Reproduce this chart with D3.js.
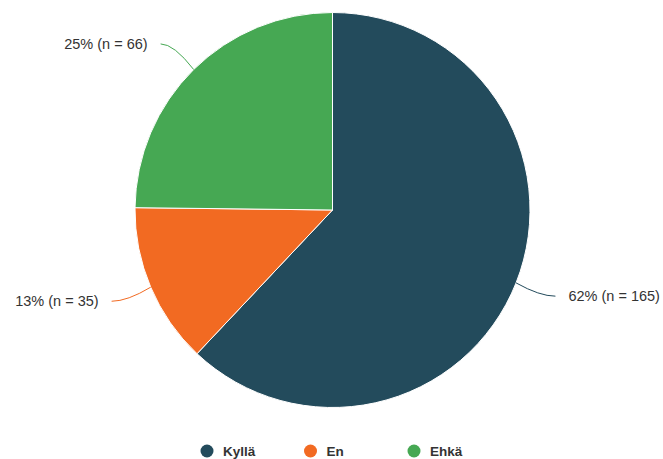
<!DOCTYPE html>
<html>
<head>
<meta charset="utf-8">
<script src="https://cdn.jsdelivr.net/npm/d3@7"></script>
<style>
  html, body { margin: 0; padding: 0; background: #fff; }
  svg { display: block; }
</style>
</head>
<body>
<svg id="chart" width="663" height="459"></svg>
<script>
// Survey answers
const categories = ["Kyllä", "En", "Ehkä"];
const counts = [165, 35, 66];
const percentLabels = ["62%", "13%", "25%"];
const colors = ["#234b5c", "#f26a22", "#46a853"];

const width = 663, height = 459;
const cx = 332.5, cy = 210, radius = 197.5;

const svg = d3.select("#chart");
const g = svg.append("g").attr("transform", `translate(${cx},${cy})`);

const data = categories.map((c, i) => ({ name: c, value: counts[i], pct: percentLabels[i], color: colors[i] }));

const pie = d3.pie().value(d => d.value).sort(null);
const arcs = pie(data);
const arc = d3.arc().innerRadius(0).outerRadius(radius);

g.selectAll("path.slice")
  .data(arcs)
  .join("path")
  .attr("class", "slice")
  .attr("d", arc)
  .attr("fill", d => d.data.color)
  .attr("stroke", "#ffffff")
  .attr("stroke-width", 1);

// Data labels with soft connectors
const polar = (a, r) => [Math.sin(a) * r, -Math.cos(a) * r];
const labelRadius = 239;
arcs.forEach(d => {
  const mid = (d.startAngle + d.endAngle) / 2;
  const right = Math.sin(mid) > 0;
  const edge = polar(mid, radius);
  const ly = polar(mid, radius + 36)[1];
  const lx = (right ? 1 : -1) * Math.sqrt(labelRadius * labelRadius - ly * ly);
  const anchor = [lx, ly];
  const ctrl = [anchor[0] + (edge[0] - anchor[0]) * 0.4, anchor[1]];
  g.append("path")
    .attr("d", `M${anchor[0]},${anchor[1]} Q${ctrl[0]},${ctrl[1]} ${edge[0]},${edge[1]}`)
    .attr("fill", "none")
    .attr("stroke", d.data.color)
    .attr("stroke-width", 1);
  g.append("text")
    .attr("x", anchor[0] + (right ? 13 : -13))
    .attr("y", anchor[1])
    .attr("dy", "0.35em")
    .attr("text-anchor", right ? "start" : "end")
    .attr("font-family", "Arial, 'Liberation Sans', sans-serif")
    .attr("font-size", 14.5)
    .attr("fill", "#333333")
    .text(`${d.data.pct} (n = ${d.data.value})`);
});

// Legend
const legendX = d3.scalePoint().domain(categories).range([207, 414]);
const legend = svg.append("g").attr("transform", "translate(0,451)");
const items = legend.selectAll("g").data(data).join("g")
  .attr("transform", d => `translate(${legendX(d.name)},0)`);
items.append("circle").attr("r", 6.5).attr("fill", d => d.color);
items.append("text")
  .attr("x", 16)
  .attr("dy", "0.35em")
  .attr("font-family", "Arial, 'Liberation Sans', sans-serif")
  .attr("font-size", 13.5)
  .attr("font-weight", "bold")
  .attr("fill", "#333333")
  .text(d => d.name);
</script>
</body>
</html>
